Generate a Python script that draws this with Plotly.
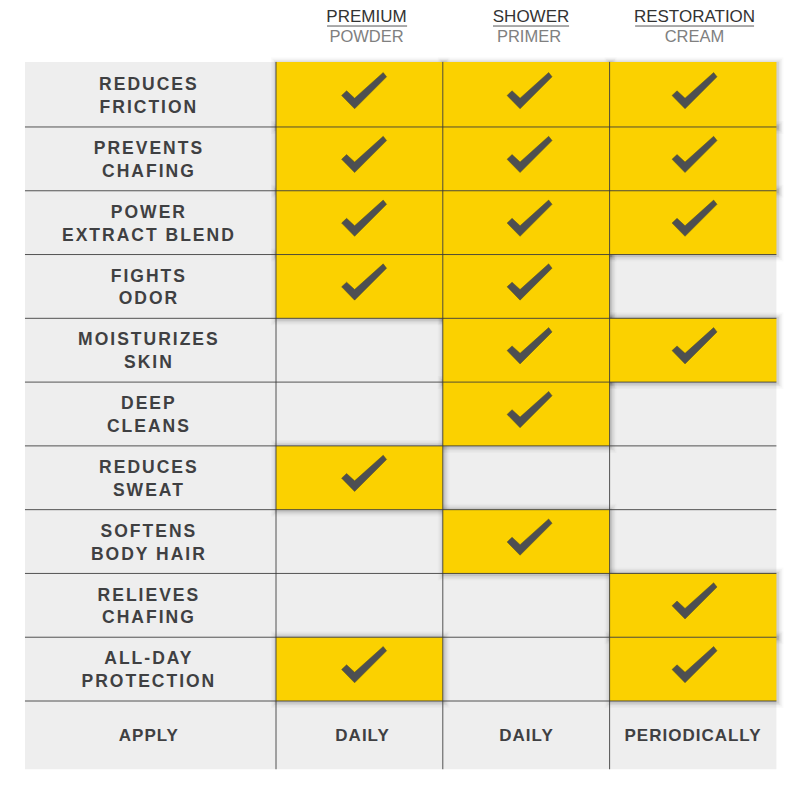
import plotly.graph_objects as go

# table content
features = ["REDUCES<br>FRICTION", "PREVENTS<br>CHAFING", "POWER<br>EXTRACT BLEND", "FIGHTS<br>ODOR",
            "MOISTURIZES<br>SKIN", "DEEP<br>CLEANS", "REDUCES<br>SWEAT", "SOFTENS<br>BODY HAIR",
            "RELIEVES<br>CHAFING", "ALL-DAY<br>PROTECTION"]
product_names = ["PREMIUM", "SHOWER", "RESTORATION"]
product_types = ["POWDER", "PRIMER", "CREAM"]
premium_powder = [1, 1, 1, 1, 0, 0, 1, 0, 0, 1]
shower_primer = [1, 1, 1, 1, 1, 1, 0, 1, 0, 0]
restoration_cream = [1, 1, 1, 0, 1, 0, 0, 0, 1, 1]
apply_label = "APPLY"
apply_values = ["DAILY", "DAILY", "PERIODICALLY"]

# layout: axes are in table units (one column, one row)
COL_PX = 166.8
ROW_PX = 63.78
X_RANGE = [-276 / COL_PX, 524 / COL_PX]
Y_RANGE = [(800 - 63.2) / ROW_PX, -63.2 / ROW_PX]
LABEL_LEFT = -1.505
TABLE_RIGHT = 3
TABLE_TOP = -0.02
TABLE_BOTTOM = 11.07
LABEL_X = -0.762
LABEL_Y_NUDGE = 0.035
NAME_X = [0.5426, 1.529, 2.509]
TYPE_X = [0.5426, 1.517, 2.509]
APPLY_X = [0.519, 1.502, 2.5]
APPLY_Y = 10.56
NAME_Y = -0.71
TYPE_Y = -0.395
UNDERLINE_Y = -0.583
UNDERLINE_X = [(0.306, 0.786), (1.301, 1.757), (2.153, 2.866)]
CHECK_X = [0.527, 1.519, 2.508]
# tick outline, pixels from the middle of the cell
CHECK_SHAPE = [(-22.3, 0.9), (-17.3, -3.8), (-9.3, 3.6), (19.3, -22.1), (22.7, -17.8), (-9.3, 14.2), (-22.3, 0.9)]

YELLOW = "#fbd100"
GREY = "#eeeeee"
DARK = "#3f4042"
LINE = "rgba(55,55,55,0.85)"

columns = [premium_powder, shower_primer, restoration_cream]

fig = go.Figure()

fig.add_shape(type="rect", x0=LABEL_LEFT, x1=TABLE_RIGHT, y0=TABLE_TOP, y1=TABLE_BOTTOM,
              fillcolor=GREY, line_width=0, layer="below")

# soft drop shadow under the yellow cells
for grow, alpha in [(6, 0.02), (4.5, 0.03), (3, 0.05), (1.5, 0.08)]:
    for c, col in enumerate(columns):
        for r, on in enumerate(col):
            if on:
                fig.add_shape(type="rect", x0=c - (grow - 1) / COL_PX, x1=c + 1 + (grow + 1) / COL_PX,
                              y0=r - grow / ROW_PX, y1=r + 1 + (grow + 1) / ROW_PX,
                              fillcolor=f"rgba(0,0,0,{alpha})", line_width=0, layer="below")

for c, col in enumerate(columns):
    for r, on in enumerate(col):
        if on:
            fig.add_shape(type="rect", x0=c, x1=c + 1, y0=TABLE_TOP if r == 0 else r, y1=r + 1,
                          fillcolor=YELLOW, line_width=0, layer="below")

# grid lines
for r in range(1, len(features) + 1):
    fig.add_shape(type="line", x0=LABEL_LEFT, x1=TABLE_RIGHT, y0=r, y1=r, line=dict(color=LINE, width=1), layer="below")
for c in range(len(columns)):
    fig.add_shape(type="line", x0=c, x1=c, y0=TABLE_TOP, y1=TABLE_BOTTOM, line=dict(color=LINE, width=1), layer="below")

for x0, x1 in UNDERLINE_X:
    fig.add_shape(type="line", x0=x0, x1=x1, y0=UNDERLINE_Y, y1=UNDERLINE_Y, line=dict(color="#555555", width=1), layer="below")

# ticks
check_x = []
check_y = []
for c, col in enumerate(columns):
    for r, on in enumerate(col):
        if on:
            check_x += [CHECK_X[c] + dx / COL_PX for dx, dy in CHECK_SHAPE] + [None]
            check_y += [r + 0.5 + (dy - 0.5) / ROW_PX for dx, dy in CHECK_SHAPE] + [None]
fig.add_trace(go.Scatter(x=check_x, y=check_y, mode="lines", fill="toself", fillcolor="#4d4f52",
                         line=dict(color="#5a5520", width=0.5), hoverinfo="skip"))

# trace 1: row labels
fig.add_trace(go.Scatter(x=[LABEL_X] * len(features), y=[r + 0.5 + LABEL_Y_NUDGE for r in range(len(features))],
                         mode="text", text=features, textposition="middle center", hoverinfo="skip",
                         textfont=dict(family="Liberation Sans", size=17.5, color=DARK, weight="bold")))
# trace 2: bottom row
fig.add_trace(go.Scatter(x=[LABEL_X] + APPLY_X, y=[APPLY_Y] * 4, mode="text", hoverinfo="skip",
                         text=[apply_label] + apply_values, textposition="middle center",
                         textfont=dict(family="Liberation Sans", size=17, color=DARK, weight="bold")))
fig.add_trace(go.Scatter(x=NAME_X, y=[NAME_Y] * 3, mode="text", text=product_names, textposition="middle center",
                         hoverinfo="skip", textfont=dict(family="Liberation Sans", size=17, color="#333333")))
fig.add_trace(go.Scatter(x=TYPE_X, y=[TYPE_Y] * 3, mode="text", text=product_types, textposition="middle center",
                         hoverinfo="skip", textfont=dict(family="Liberation Sans", size=16.5, color="#808080")))

fig.update_layout(width=800, height=800, margin=dict(l=0, r=0, t=0, b=0), showlegend=False,
                  paper_bgcolor="white", plot_bgcolor="white",
                  xaxis=dict(range=X_RANGE, visible=False, fixedrange=True),
                  yaxis=dict(range=Y_RANGE, visible=False, fixedrange=True))

# plotly has no letter spacing option for text, and the page has a default body margin
page_js = """
document.body.style.margin = '0';
var traces = document.querySelectorAll('.scatterlayer .trace');
traces[1].querySelectorAll('text').forEach(function (t) { t.style.letterSpacing = '2px'; });
traces[2].querySelectorAll('text').forEach(function (t) { t.style.letterSpacing = '1px'; });
"""
fig.write_html("out.html", post_script=page_js, config=dict(displayModeBar=False))
